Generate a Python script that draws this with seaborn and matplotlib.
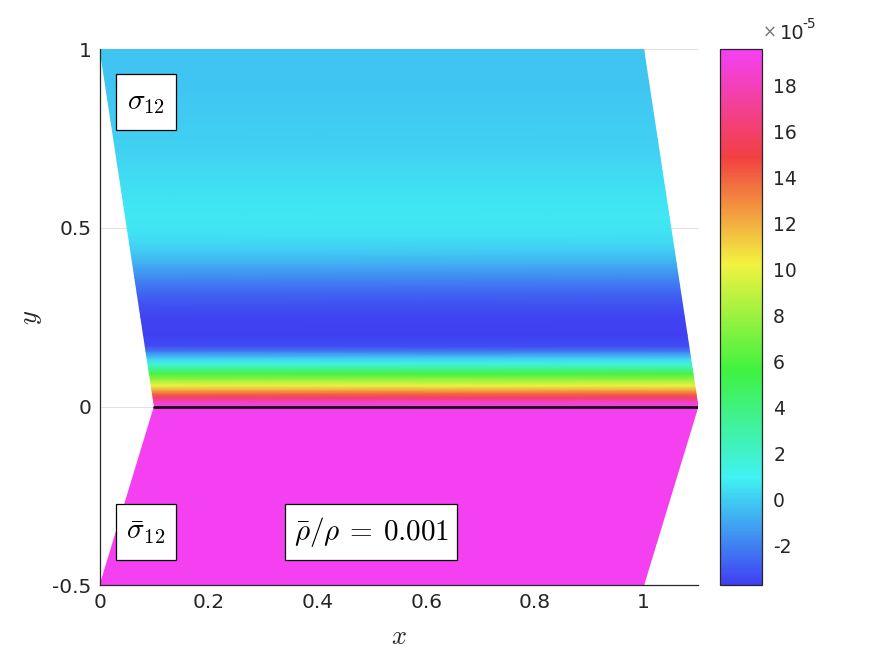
import numpy as np
import matplotlib
matplotlib.use("Agg")
import matplotlib.pyplot as plt
from matplotlib.patches import Rectangle
from matplotlib.colors import Normalize
import seaborn as sns

# sigma_12 across the upper layer, in units of 1e-5
y_upper = [0.0, 0.012, 0.025, 0.035, 0.047, 0.058, 0.075, 0.09, 0.105, 0.12,
           0.135, 0.155, 0.17, 0.20, 0.25, 0.28, 0.32, 0.36, 0.40, 0.44,
           0.48, 0.53, 0.60, 0.70, 0.80, 0.90, 1.0]
sigma_upper = [19.4, 18.5, 16.0, 14.0, 12.0, 10.0, 8.0, 6.0, 3.5, 1.5,
               0.0, -2.2, -3.4, -3.7, -3.6, -3.3, -2.7, -1.8, -0.8, 0.0,
               0.5, 0.7, 0.5, 0.15, -0.05, -0.2, -0.25]
# lower layer (sigma bar) is uniform
y_lower = [-0.5, 0.0]
sigma_lower = [19.5, 19.5]

# sheared layer outlines: left edge x at the bottom / top of each layer
upper_left = [0.1, 0.0]
lower_left = [0.0, 0.1]
layer_width = 1.0

cbar_ticks = [-2, 0, 2, 4, 6, 8, 10, 12, 14, 16, 18]
xticks = [0, 0.2, 0.4, 0.6, 0.8, 1]
xtick_labels = ['0', '0.2', '0.4', '0.6', '0.8', '1']
yticks = [-0.5, 0, 0.5, 1]
ytick_labels = ['-0.5', '0', '0.5', '1']

sns.set_theme(style="white")
plt.rcParams['font.family'] = ['DejaVu Sans']
plt.rcParams['mathtext.fontset'] = 'cm'
plt.rcParams['axes.unicode_minus'] = False

dark = '#262626'
cmap = sns.blend_palette(['#4040F2', '#40F2F2', '#40F240', '#F2F240',
                          '#F24040', '#F440F4'], as_cmap=True)
norm = Normalize(vmin=-3.74, vmax=19.6)


def layer_mesh(ys, vals, left):
    ys = np.asarray(ys, dtype=float)
    xl = np.interp(ys, [ys[0], ys[-1]], left)
    X = np.column_stack([xl, xl + layer_width])
    Y = np.column_stack([ys, ys])
    C = np.column_stack([vals, vals])
    return X, Y, C


fig = plt.figure(figsize=(8.75, 6.56), dpi=100)
ax = fig.add_axes([0.1143, 0.108, 0.6834, 0.817])
cax = fig.add_axes([0.823, 0.108, 0.048, 0.817])

X, Y, C = layer_mesh(y_upper, sigma_upper, upper_left)
mesh = ax.pcolormesh(X, Y, C, shading='gouraud', cmap=cmap, norm=norm)
X, Y, C = layer_mesh(y_lower, sigma_lower, lower_left)
ax.pcolormesh(X, Y, C, shading='gouraud', cmap=cmap, norm=norm)

# interface
ax.plot([upper_left[0], upper_left[0] + layer_width], [0, 0], color='black', lw=1.8, zorder=3)

ax.set_xlim(0, 1.1)
ax.set_ylim(-0.5, 1)
ax.set_xticks(xticks)
ax.set_xticklabels(xtick_labels)
ax.set_yticks(yticks)
ax.set_yticklabels(ytick_labels)
ax.set_axisbelow(True)
ax.grid(True, color='#DCDCDC', lw=0.6)
ax.tick_params(direction='in', length=4, width=0.8, colors=dark, labelsize=14.5,
               labelcolor=dark, pad=6)
for s in ['top', 'right']:
    ax.spines[s].set_visible(False)
for s in ['left', 'bottom']:
    ax.spines[s].set_color(dark)
    ax.spines[s].set_linewidth(0.9)
ax.set_xlabel('$x$', fontsize=19, color=dark, labelpad=8)
ax.set_ylabel('$y$', fontsize=19, color=dark, labelpad=6)

# label boxes
boxes = [((0.0294, 0.773), 0.110, 0.157, r'$\sigma_{12}$'),
         ((0.0294, -0.429), 0.110, 0.157, r'$\bar{\sigma}_{12}$'),
         ((0.341, -0.429), 0.316, 0.157, r'$\bar{\rho}/\rho\:=\:0.001$')]
for (bx, by), bw, bh, label in boxes:
    ax.add_patch(Rectangle((bx, by), bw, bh, facecolor='white', edgecolor='black',
                           lw=0.9, zorder=4))
    ax.text(bx + bw / 2, by + bh / 2, label, ha='center', va='center',
            fontsize=21, color='black', zorder=5)

cb = fig.colorbar(mesh, cax=cax)
cb.set_ticks(cbar_ticks)
cb.set_ticklabels([str(t) for t in cbar_ticks])
cb.outline.set_edgecolor(dark)
cb.outline.set_linewidth(0.9)
cax.tick_params(direction='in', length=4, width=0.8, colors=dark, labelsize=13.5,
                labelcolor=dark, pad=8)
fig.text(0.880, 0.951, '\u00d7', fontsize=12, color='#777777', ha='center', va='center')
fig.text(0.905, 0.949, '10', fontsize=14, color=dark, ha='center', va='center')
fig.text(0.925, 0.964, '-5', fontsize=10, color=dark, ha='center', va='center')

fig.savefig('out.png', dpi=100)
